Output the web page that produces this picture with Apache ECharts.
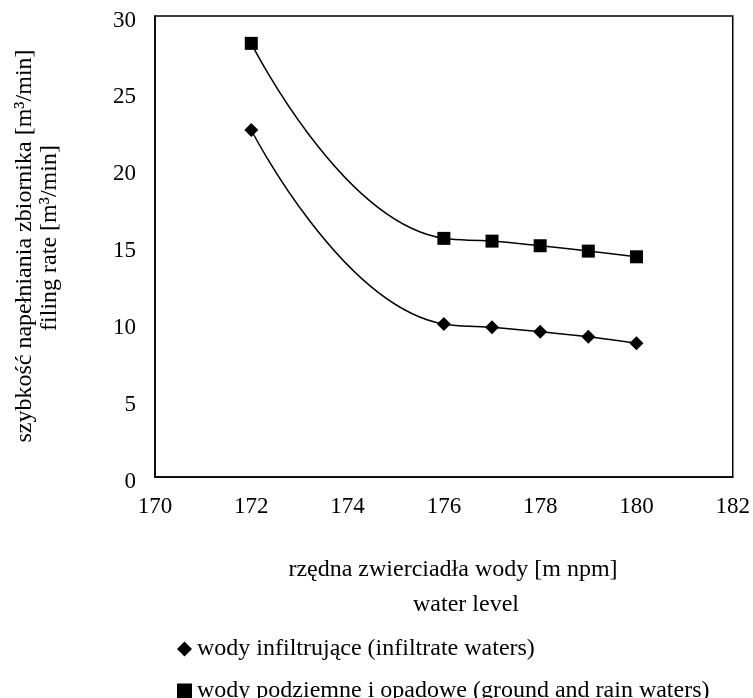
<!DOCTYPE html>
<html>
<head>
<meta charset="utf-8">
<script src="https://cdn.jsdelivr.net/npm/echarts@6/dist/echarts.min.js"></script>
<style>
html,body{margin:0;padding:0;background:#fff;}
#c{width:753px;height:698px;}
</style>
</head>
<body>
<div id="c"></div>
<script>
var xLevels = [172, 176, 177, 178, 179, 180];
var infiltrate = [22.58, 9.95, 9.74, 9.45, 9.13, 8.70];
var groundRain = [28.22, 15.53, 15.35, 15.05, 14.70, 14.33];
var nameInfiltrate = 'wody infiltrujące (infiltrate waters)';
var nameGround = 'wody podziemne i opadowe (ground and rain waters)';
var yTitle1 = 'szybkość napełniania zbiornika [m³/min]';
var yTitle2 = 'filing rate [m³/min]';
var xTitle1 = 'rzędna zwierciadła wody [m npm]';
var xTitle2 = 'water level';

function pairs(xs, ys){ return xs.map(function(x,i){ return [x, ys[i]]; }); }

var FONT = 'Liberation Serif';
function titleText(t, x, y, rot){
  return {type: 'text', x: x, y: y, rotation: rot || 0,
    style: {text: t, x: 0, y: 0, fontFamily: FONT, fontSize: 24, fill: '#000', align: 'center', verticalAlign: 'middle'}};
}
var chart = echarts.init(document.getElementById('c'), null, {renderer:'canvas'});
chart.setOption({
  backgroundColor: '#fff',
  animation: false,
  textStyle: {fontFamily: FONT, color: '#000'},
  grid: {left: 155, right: 18, top: 16, bottom: 221, show: true, borderColor: '#000', borderWidth: 1.5, backgroundColor: 'transparent'},
  xAxis: {
    type: 'value', min: 170, max: 182, interval: 2,
    axisLine: {show: true, lineStyle: {color: '#000', width: 1.5}},
    axisTick: {show: false},
    splitLine: {show: false},
    axisLabel: {color: '#000', fontFamily: FONT, fontSize: 23, margin: 18}
  },
  yAxis: {
    type: 'value', min: 0, max: 30, interval: 5,
    axisLine: {show: true, lineStyle: {color: '#000', width: 1.5}},
    axisTick: {show: false},
    splitLine: {show: false},
    axisLabel: {color: '#000', fontFamily: FONT, fontSize: 23, margin: 19,
      formatter: '{a|{value}}',
      rich: {a: {fontFamily: FONT, fontSize: 23, color: '#000', padding: [9, 0, 0, 0]}}}
  },
  legend: [
    {
      orient: 'vertical', left: 172, top: 632,
      itemWidth: 15, itemHeight: 15,
      textStyle: {fontFamily: FONT, fontSize: 24, color: '#000'},
      data: [{name: nameInfiltrate, icon: 'diamond'}]
    },
    {
      orient: 'vertical', left: 172, top: 674,
      itemWidth: 15, itemHeight: 15,
      textStyle: {fontFamily: FONT, fontSize: 24, color: '#000'},
      data: [{name: nameGround, icon: 'rect'}]
    }
  ],
  graphic: [
    titleText(yTitle1, 25, 246, Math.PI/2),
    titleText(yTitle2, 50, 238, Math.PI/2),
    titleText(xTitle1, 453, 570),
    titleText(xTitle2, 466, 605)
  ],
  series: [
    {
      name: nameInfiltrate, type: 'line', smooth: 0.5,
      data: pairs(xLevels, infiltrate),
      symbol: 'diamond', symbolSize: 14,
      itemStyle: {color: '#000'},
      lineStyle: {color: '#000', width: 1.5}
    },
    {
      name: nameGround, type: 'line', smooth: 0.5,
      data: pairs(xLevels, groundRain),
      symbol: 'rect', symbolSize: 13,
      itemStyle: {color: '#000'},
      lineStyle: {color: '#000', width: 1.5}
    }
  ]
});
</script>
</body>
</html>
